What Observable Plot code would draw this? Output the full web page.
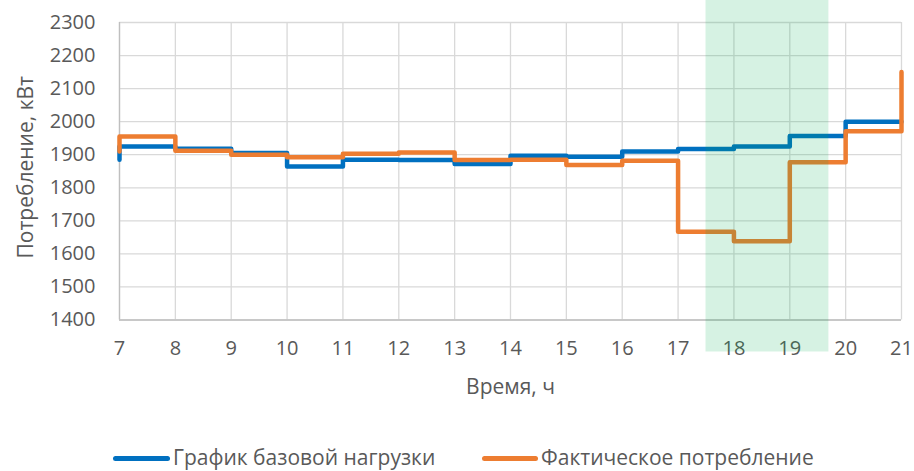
<!DOCTYPE html>
<html>
<head>
<meta charset="utf-8">
<script src="https://cdn.jsdelivr.net/npm/d3@7"></script>
<script src="https://cdn.jsdelivr.net/npm/@observablehq/plot@0.6"></script>
<style>
  html, body { margin: 0; padding: 0; background: #fff; }
  body { width: 914px; height: 471px; overflow: hidden; font-family: "Open Sans", "Noto Sans", sans-serif; }
  #legend { position: relative; height: 51px; color: #595959; font-size: 21px; line-height: 22px; }
  .item { position: absolute; top: 26px; height: 22px; display: flex; align-items: center; white-space: nowrap; }
  .swatch { height: 5px; border-radius: 3px; margin-right: 3px; position: relative; top: 1px; }
</style>
</head>
<body>
<div id="chart"></div>
<div id="legend"></div>
<script>
const hours = [7, 8, 9, 10, 11, 12, 13, 14, 15, 16, 17, 18, 19, 20];
const baseLoad = [1925, 1918, 1905, 1864, 1885, 1884, 1872, 1897, 1894, 1910, 1917, 1925, 1957, 2000];
const actualUse = [1955, 1912, 1900, 1892, 1903, 1907, 1884, 1885, 1869, 1882, 1667, 1638, 1877, 1971];
const baseStart = 1885, baseEnd = 2000;
const actualStart = 1910, actualEnd = 2150;
const xTicks = [7, 8, 9, 10, 11, 12, 13, 14, 15, 16, 17, 18, 19, 20, 21];
const yTicks = [1400, 1500, 1600, 1700, 1800, 1900, 2000, 2100, 2200, 2300];
const band = [{from: 17.5, to: 19.7}];
const seriesNames = ["График базовой нагрузки", "Фактическое потребление"];
const colors = ["#0070C0", "#ED7D31"];

function build(values, start, end, name) {
  const pts = [{x: hours[0], y: start, s: name}];
  hours.forEach((h, i) => pts.push({x: h, y: values[i], s: name}));
  const last = hours[hours.length - 1] + 1;
  pts.push({x: last, y: values[values.length - 1], s: name});
  pts.push({x: last, y: end, s: name});
  return pts;
}
const baseData = build(baseLoad, baseStart, baseEnd, seriesNames[0]);
const actualData = build(actualUse, actualStart, actualEnd, seriesNames[1]);

const chart = Plot.plot({
  width: 914,
  height: 420,
  marginTop: 22,
  marginBottom: 100.5,
  marginLeft: 119,
  marginRight: 13,
  style: {fontFamily: "'Open Sans', 'Noto Sans', sans-serif", fontSize: "20px", color: "#595959", background: "#fff"},
  x: {domain: [7, 21], ticks: xTicks},
  y: {domain: [1400, 2300], ticks: yTicks},
  marks: [
    Plot.gridX(xTicks, {stroke: "#d9d9d9", strokeOpacity: 1, strokeWidth: 1.3}),
    Plot.gridY(yTicks, {stroke: "#d9d9d9", strokeOpacity: 1, strokeWidth: 1.3}),
    Plot.ruleY([1400], {stroke: "#bfbfbf", strokeWidth: 1.5}),
    Plot.ruleX([7], {stroke: "#bfbfbf", strokeWidth: 1.3}),
    Plot.axisX(xTicks, {tickSize: 0, tickPadding: 21, fontSize: 20, tickFormat: d => String(d), label: null, fill: "#595959"}),
    Plot.axisY(yTicks, {tickSize: 0, tickPadding: 24, fontSize: 20, tickFormat: d => String(d), label: null, fill: "#595959"}),
    Plot.text(["Время, ч"], {frameAnchor: "bottom", lineAnchor: "middle", dy: 67, fontSize: 21, fill: "#595959", textAnchor: "middle"}),
    Plot.text(["Потребление, кВт"], {frameAnchor: "left", dx: -93, dy: -4, rotate: -90, fontSize: 21, fill: "#595959", textAnchor: "middle"}),
    Plot.line(baseData, {x: "x", y: "y", curve: "step-after", stroke: colors[0], strokeWidth: 4.5, strokeLinejoin: "round", strokeLinecap: "round"}),
    Plot.line(actualData, {x: "x", y: "y", curve: "step-after", stroke: colors[1], strokeWidth: 4.5, strokeLinejoin: "round", strokeLinecap: "round"}),
    Plot.rect(band, {x1: "from", x2: "to", fill: "#00B050", fillOpacity: 0.16, insetTop: -22, insetBottom: -32})
  ]
});
document.getElementById("chart").appendChild(chart);

const legend = document.getElementById("legend");
const pos = [{line: 113, w: 57}, {line: 482, w: 56}];
seriesNames.forEach((n, i) => {
  const it = document.createElement("div");
  it.className = "item";
  it.style.left = pos[i].line + "px";
  const sw = document.createElement("span");
  sw.className = "swatch";
  sw.style.width = pos[i].w + "px";
  sw.style.background = colors[i];
  const tx = document.createElement("span");
  tx.textContent = n;
  it.appendChild(sw); it.appendChild(tx);
  legend.appendChild(it);
});
</script>
</body>
</html>
